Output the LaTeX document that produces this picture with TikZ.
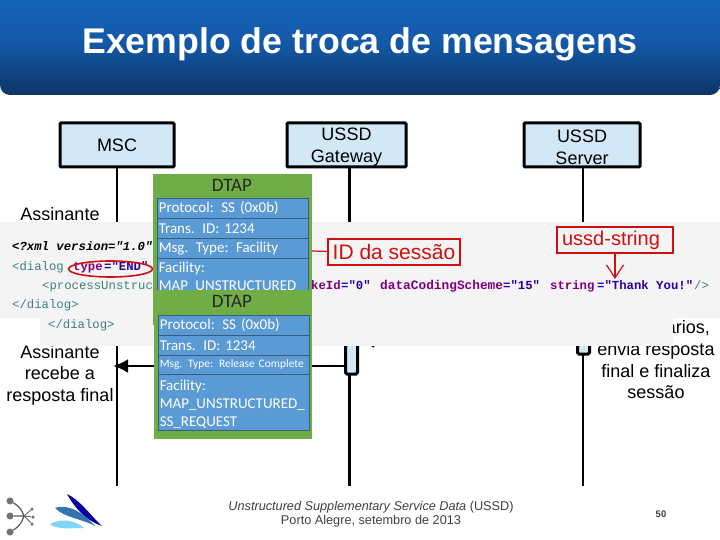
\documentclass[tikz,border=0pt]{standalone}
\usepackage{fontspec}
\setmainfont{Liberation Sans}
\newfontfamily\calfont[WordSpace=0.8]{Carlito}
\newfontfamily\codefont{Liberation Mono}
\usetikzlibrary{arrows.meta,shapes.geometric}
\definecolor{dtapgreen}{HTML}{70AD47}
\definecolor{dtapblue}{HTML}{5B9BD5}
\definecolor{codebg}{HTML}{F4F4F5}
\definecolor{redbox}{HTML}{D01010}
\definecolor{attr}{HTML}{7F007F}
\definecolor{valc}{HTML}{2A00A0}
\definecolor{tagc}{HTML}{3F7F7F}
\definecolor{tdark}{HTML}{0E3565}
\definecolor{tlight}{HTML}{1565C0}
\definecolor{boxfill}{HTML}{D3E8F7}
\tikzset{
  actor/.style={draw=black,line width=3pt,fill=boxfill,rounded corners=1pt,minimum height=44pt,align=center,font=\fontsize{18}{21.5}\selectfont,inner sep=0pt},
  life/.style={line width=2.8pt},
  msg/.style={line width=2.8pt,-{Latex[length=15pt,width=14pt]}},
  captxt/.style={align=center,font=\fontsize{18}{21.5}\selectfont,inner sep=0pt},
  activ/.style={draw=black,line width=3pt,fill=boxfill,rounded corners=1.5pt,minimum width=12pt,inner sep=0pt},
  greenbox/.style={fill=dtapgreen,draw=none},
  field/.style={draw=dtapblue!60!black,line width=.5pt,fill=dtapblue,minimum width=151pt,anchor=north west,inner sep=0pt,text=white,font=\calfont\fontsize{15}{18}\selectfont,align=left,text width=148pt},
  dtaplabel/.style={font=\calfont\fontsize{19}{22}\selectfont,text=black!85,inner sep=0pt},
  code/.style={anchor=base west,inner sep=0pt,font=\codefont\bfseries\fontsize{12.3}{14}\selectfont},
  tagcode/.style={anchor=base west,inner sep=0pt,text=tagc,font=\codefont\fontsize{12.3}{14}\selectfont},
  redtag/.style={draw=redbox,line width=2pt,text=redbox,fill=none,inner sep=0pt,font=\fontsize{21}{24}\selectfont},
  foot/.style={align=center,inner sep=0pt,text=black!75,font=\fontsize{12.7}{14}\selectfont},
  ball/.style={circle,fill=black!55,inner sep=0pt}
}
\begin{document}
\begin{tikzpicture}[x=1pt,y=-1pt]
\useasboundingbox (0,0) rectangle (720,540);
\fill[white] (0,0) rectangle (720,540);
% title
\path[top color=tlight,bottom color=tdark,middle color=tlight!75!tdark,rounded corners=10pt] (0,-12) rectangle (720,95);
\node (title) [text=white,inner sep=0pt,font=\bfseries\fontsize{35.7}{40}\selectfont] at (360,44) {Exemplo de troca de mensagens};
% lifelines
\coordinate (endA) at (117,486);
\coordinate (endB) at (349.5,486);
\coordinate (endC) at (583,486);
\node (msc) [actor,minimum width=114pt] at (117,145) {MSC};
\node (gw) [actor,minimum width=119pt] at (346.5,145) {\rule{0pt}{17pt}USSD\\Gateway};
\node (srv) [actor,minimum width=116pt] at (582,145) {\rule{0pt}{17pt}USSD\\Server};
\draw[life] (msc.south) -- (endA);
\draw[life] (gw.south -| endB) -- (endB);
\draw[life] (srv.south -| endC) -- (endC);
% activations
\node (actB) [activ,minimum height=60pt] at (351.5,344) {};
\node (actC) [activ,minimum height=60pt] at (583.5,324) {};
% arrows
\draw[msg] (actB.west |- 0,366) -- (113,366);
\draw[msg] (actC.west |- 0,341) -- (actB.east |- 0,341);
% captions
\node (c1) [captxt] at (60,214) {Assinante};
\node (c2) [captxt] at (60,375) {Assinante\\recebe a\\resposta final};
\node (c3) [captxt,anchor=east] at (710,328) {ários,};
\node (c4) [captxt] at (656,371) {envia resposta\\final e finaliza\\sessão};
% code backdrop
\fill[codebg] (0,222) rectangle (720,318);
\fill[codebg] (40,318) rectangle (673,346);
\node (x1) [code,font=\codefont\bfseries\itshape\fontsize{12.3}{14}\selectfont] at (12,250) {<?xml version="1.0"};
\node (x2) [tagcode] at (12,270) {<dialog};
\node (x2b) [code,text=attr] at (73,270) {type};
\node (x2c) [code,text=valc] at (104,270) {="END"};
\node (x3) [tagcode] at (42,289) {<processUnstruc};
\node (x3b) [code,text=attr] at (311,289) {keId};
\node (x3c) [code,text=valc] at (341,289) {="0"};
\node (x3d) [code,text=attr,font=\codefont\bfseries\fontsize{12.8}{14}\selectfont] at (380,289) {dataCodingScheme};
\node (x3e) [code,text=valc] at (503,289) {="15"};
\node (x3f) [code,text=attr] at (550,289) {string};
\node (x3g) [code,text=valc] at (597,289) {="Thank You!"};
\node (x3h) [tagcode] at (694,289) {/>};
\node (x4) [tagcode] at (12,308) {</dialog>};
\node (x5) [tagcode] at (48,328) {</dialog>};
\node (ell) [draw=redbox,ellipse,line width=1.6pt,minimum width=84pt,minimum height=16pt,inner sep=0pt] at (110.5,269) {};
% red tags
\node (idtag) [redtag,anchor=west,minimum width=132pt,minimum height=26pt] at (327,251.5) {ID da sessão};
\node (usstag) [redtag,font=\fontsize{20}{24}\selectfont,minimum width=116pt,minimum height=26pt] at (615,240) {ussd-string\hspace*{8pt}};
\coordinate (thank) at (615,279);
\draw[redbox,line width=1.2pt,-{Straight Barb[length=13pt,width=17pt]}] (usstag.south) -- (thank);
% DTAP 1
\fill[greenbox] (153,174) rectangle (312,325);
\coordinate (edge1) at (312,251);
\node (d1) [dtaplabel] at (232,185) {DTAP};
\node (f1) [field,minimum height=20pt] at (157,198) {Protocol: SS (0x0b)};
\node (f2) [field,minimum height=20pt] at (157,218) {Trans. ID: 1234};
\node (f3) [field,minimum height=20pt] at (157,238) {Msg. Type: Facility};
\node (f4) [field,minimum height=38pt] at (157,258) {Facility:\\MAP\_UNSTRUCTURED\_};
\draw[redbox,line width=1.2pt] (idtag.west) -- (edge1);
% DTAP 2
\fill[greenbox] (154,290) rectangle (312,439);
\node (d2) [dtaplabel] at (232,301) {DTAP};
\node (g1) [field,minimum height=20pt] at (158,315) {Protocol: SS (0x0b)};
\node (g2) [field,minimum height=20pt] at (158,335) {Trans. ID: 1234};
\node (g3) [field,minimum height=19pt,font=\calfont\fontsize{11.5}{14}\selectfont] at (158,355) {Msg. Type: Release Complete};
\node (g4) [field,minimum height=56pt,font=\calfont\fontsize{15}{18}\selectfont] at (158,374) {\rule{0pt}{14pt}Facility:\\MAP\_UNSTRUCTURED\_\\SS\_REQUEST};
% footer logos
\node (logo1) [ball,minimum size=7pt] at (10,501) {};
\node (logo2) [ball,minimum size=7pt] at (10,516) {};
\node (logo3) [ball,minimum size=7pt] at (10,532) {};
\node (logo4) [ball,minimum size=3.5pt] at (32,509) {};
\node (logo5) [ball,minimum size=3.5pt] at (33,517) {};
\node (logo6) [ball,minimum size=3.5pt] at (32,524) {};
\coordinate (hub) at (24,516);
\draw[black!65,line width=1.2pt] (logo1) to[bend left=20] (hub) (logo2) -- (hub) (logo3) to[bend right=20] (hub);
\draw[black!65,line width=.8pt] (hub) -- (logo4) (hub) -- (logo5) (hub) -- (logo6);
\fill[blue!65!black] (67,494) .. controls (80,500) and (90,515) .. (102,526) .. controls (85,520) and (75,508) .. cycle;
\fill[cyan!60!blue!80!black] (55,508) .. controls (70,503) and (85,515) .. (95,526) .. controls (80,518) and (65,518) .. cycle;
\fill[cyan!50] (50,524) .. controls (60,518) and (75,520) .. (84,528) .. controls (72,528) and (56,530) .. cycle;
% footer text
\node (ft) [foot] at (371,514) {\textit{Unstructured Supplementary Service Data} (USSD)\\Porto Alegre, setembro de 2013};
\node (pg) [foot,font=\bfseries\fontsize{9.5}{12}\selectfont] at (661,514) {50};
\end{tikzpicture}
\end{document}
